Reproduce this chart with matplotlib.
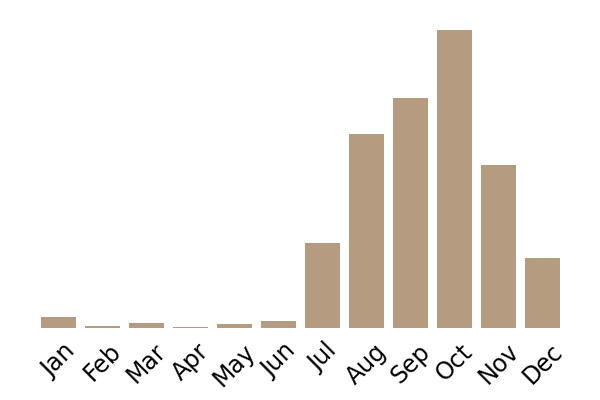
import matplotlib
matplotlib.use("Agg")
import matplotlib.pyplot as plt

months = ["Jan", "Feb", "Mar", "Apr", "May", "Jun", "Jul", "Aug", "Sep", "Oct", "Nov", "Dec"]
values = [11, 2.3, 5, 1.3, 4, 7, 85, 194, 230, 298, 163, 70]

fig = plt.figure(figsize=(6, 4), dpi=100)
ax = fig.add_axes([36.5/600, (400-328)/400, 528/600, 298/400])
x = list(range(len(months)))
ax.bar(x, values, width=0.8, color="#b59c80")
ax.set_xlim(-0.5, 11.5)
ax.set_ylim(0, max(values))
ax.set_xticks(x)
ax.set_xticklabels(months, rotation=45, ha="center", fontsize=17)
ax.tick_params(axis="x", length=0, pad=8)
ax.set_yticks([])
for s in ax.spines.values():
    s.set_visible(False)
fig.savefig("out.png", dpi=100)
